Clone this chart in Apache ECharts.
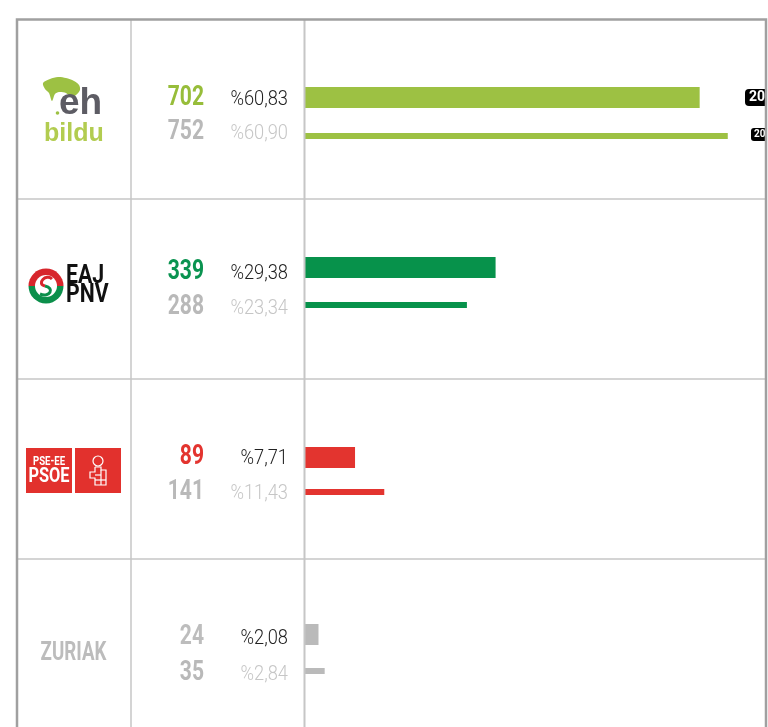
<!DOCTYPE html>
<html>
<head>
<meta charset="utf-8">
<script src="https://cdn.jsdelivr.net/npm/echarts@6/dist/echarts.min.js"></script>
<style>
  html, body { margin: 0; padding: 0; background: #fff; }
  #chart { width: 768px; height: 727px; }
</style>
</head>
<body>
<div id="chart"></div>
<script>
// datos
const parties = ['EH Bildu', 'EAJ-PNV', 'PSE-EE', 'Zuriak']
const years = ['2023', '2019']
const votesNow = [702, 339, 89, 24]
const votesPrev = [752, 288, 141, 35]
const pctNow = [60.83, 29.38, 7.71, 2.08]
const pctPrev = [60.90, 23.34, 11.43, 2.84]

const partyColors = ['#9dc143', '#07924b', '#e3342f', '#bababa']
const numColors = ['#97bd3a', '#0a9350', '#e3342f', '#bdbdbd']

// maquetacion de la tabla
const rowTops = [19, 199, 379, 559]
const barTopNow = [87, 257, 447, 624]
const barTopPrev = [133, 302, 489, 668]
const textYNow = [98, 272.5, 457, 637]
const textYPrev = [132, 307, 492, 673]
const thickNow = 21
const thickPrev = 6

const numFont = "bold 27px Roboto, 'Liberation Sans', sans-serif"
const pctFont = "300 21px Roboto, 'Liberation Sans', sans-serif"
const fmtPct = v => '%' + v.toFixed(2).replace('.', ',')

const chart = echarts.init(document.getElementById('chart'))

const grids = [], xAxes = [], yAxes = [], series = []
parties.forEach((p, i) => {
  [[votesNow[i], barTopNow[i], thickNow], [votesPrev[i], barTopPrev[i], thickPrev]].forEach(([v, top, th]) => {
    const idx = grids.length
    grids.push({ left: 305, right: 2, top: top - 5, height: th + 10 })
    xAxes.push({ gridIndex: idx, type: 'value', min: 0, max: 820, show: false })
    yAxes.push({ gridIndex: idx, type: 'category', data: [p], show: false })
    series.push({
      type: 'bar', xAxisIndex: idx, yAxisIndex: idx,
      barWidth: th, data: [v],
      itemStyle: { color: partyColors[i] },
      silent: true
    })
  })
})

// texto (scaleX para imitar la letra estrecha)
const txt = (x, y, text, font, fill, align, sx, extra) => Object.assign({
  type: 'text', x: x, y: y, z: 50, scaleX: sx || 1,
  style: { text: text, font: font, fill: fill, align: align, textAlign: align, verticalAlign: 'middle', textVerticalAlign: 'middle' }
}, extra || {})

const graphics = []

// numeros y porcentajes
parties.forEach((p, i) => {
  graphics.push(txt(204, textYNow[i], String(votesNow[i]), numFont, numColors[i], 'right', 0.78))
  graphics.push(txt(204, textYPrev[i], String(votesPrev[i]), numFont, '#b9b9b9', 'right', 0.78))
  graphics.push(txt(288, textYNow[i] + 1.5, fmtPct(pctNow[i]), pctFont, '#222', 'right', 0.87))
  graphics.push(txt(288, textYPrev[i] + 1.5, fmtPct(pctPrev[i]), pctFont, '#c6c6c6', 'right', 0.87))
})

// logos
// EH Bildu
graphics.push({ type: 'polygon', z: 40, shape: { points: [[43, 83], [50, 79], [58, 77], [66, 78], [74, 81], [79, 85], [80, 90], [76, 95], [71, 97], [66, 93], [59, 92], [55, 94], [52, 101], [49, 93], [45, 89]], smooth: 0.3 }, style: { fill: '#9dc143' } })
graphics.push({ type: 'circle', z: 40, shape: { cx: 57.5, cy: 113, r: 1.8 }, style: { fill: '#9dc143' } })
graphics.push(txt(59, 104, 'eh', "bold 37px 'Liberation Sans', Arial, sans-serif", '#5d5c64', 'left', 1))
graphics.push(txt(44, 134.5, 'bildu', "bold 25px 'Liberation Sans', Arial, sans-serif", '#b2cc50', 'left', 1))
// EAJ-PNV
graphics.push({ type: 'sector', z: 40, shape: { cx: 46, cy: 286, r: 17.5, startAngle: Math.PI, endAngle: 2 * Math.PI }, style: { fill: '#d7262c' } })
graphics.push({ type: 'sector', z: 40, shape: { cx: 46, cy: 286, r: 17.5, startAngle: 0, endAngle: Math.PI }, style: { fill: '#0b8f4b' } })
graphics.push({ type: 'circle', z: 41, shape: { cx: 46, cy: 286, r: 11 }, style: { fill: '#fff' } })
graphics.push({ type: 'bezierCurve', z: 42, shape: { x1: 52, y1: 279, cpx1: 46, cpy1: 273, cpx2: 36, cpy2: 284, x2: 45, y2: 286 }, style: { fill: 'none', stroke: '#d7262c', lineWidth: 3 } })
graphics.push({ type: 'bezierCurve', z: 42, shape: { x1: 45, y1: 286, cpx1: 55, cpy1: 288, cpx2: 50, cpy2: 298, x2: 40, y2: 294 }, style: { fill: 'none', stroke: '#0b8f4b', lineWidth: 3 } })
graphics.push(txt(66, 277, 'EAJ', "bold 25px Roboto, 'Liberation Sans', sans-serif", '#111', 'left', 0.85))
graphics.push(txt(66, 296, 'PNV', "bold 25px Roboto, 'Liberation Sans', sans-serif", '#111', 'left', 0.85))
// PSE-EE
graphics.push({ type: 'rect', z: 40, shape: { x: 26, y: 448, width: 46, height: 45 }, style: { fill: '#e2312d' } })
graphics.push({ type: 'rect', z: 40, shape: { x: 75, y: 448, width: 46, height: 45 }, style: { fill: '#e2312d' } })
graphics.push(txt(49, 462, 'PSE-EE', "bold 12px Roboto, 'Liberation Sans', sans-serif", '#fff', 'center', 0.8))
graphics.push(txt(49, 477, 'PSOE', "bold 21px Roboto, 'Liberation Sans', sans-serif", '#fff', 'center', 0.78))
graphics.push({ type: 'circle', z: 41, shape: { cx: 98, cy: 461, r: 5 }, style: { fill: 'none', stroke: '#fff', lineWidth: 1.2 } })
graphics.push({ type: 'polyline', z: 41, shape: { points: [[95, 467], [101, 467], [101, 470], [106, 470], [106, 485], [95, 485], [95, 478], [90, 478], [90, 472], [95, 472], [95, 467]] }, style: { fill: 'none', stroke: '#fff', lineWidth: 1.2 } })
graphics.push({ type: 'line', z: 41, shape: { x1: 95, y1: 475, x2: 101, y2: 475 }, style: { stroke: '#fff', lineWidth: 1.2 } })
graphics.push({ type: 'line', z: 41, shape: { x1: 95, y1: 480, x2: 106, y2: 480 }, style: { stroke: '#fff', lineWidth: 1.2 } })
graphics.push({ type: 'line', z: 41, shape: { x1: 101, y1: 470, x2: 101, y2: 485 }, style: { stroke: '#fff', lineWidth: 1.2 } })
// Zuriak
graphics.push(txt(73.5, 653, 'ZURIAK', "bold 26px Roboto, 'Liberation Sans', sans-serif", '#bcbcbc', 'center', 0.72))

// etiquetas de año (recortadas por el borde)
graphics.push({ type: 'rect', z: 45, shape: { x: 745, y: 89, width: 40, height: 17, r: 4 }, style: { fill: '#000' } })
graphics.push(txt(749, 97.5, years[0], "bold 14px Roboto, 'Liberation Sans', sans-serif", '#fff', 'left', 1, { z: 46 }))
graphics.push({ type: 'rect', z: 45, shape: { x: 751, y: 128, width: 40, height: 13, r: 3 }, style: { fill: '#000' } })
graphics.push(txt(754, 134.5, years[1], "bold 10px Roboto, 'Liberation Sans', sans-serif", '#fff', 'left', 1, { z: 46 }))

// lineas de la tabla
const lineStyle = { stroke: '#c6c6c6', lineWidth: 1.5 }
rowTops.slice(1).forEach(y => {
  graphics.push({ type: 'line', z: 30, shape: { x1: 17, y1: y, x2: 766, y2: y }, style: lineStyle })
})
graphics.push({ type: 'line', z: 30, shape: { x1: 131, y1: 19, x2: 131, y2: 740 }, style: lineStyle })
graphics.push({ type: 'line', z: 30, shape: { x1: 304.5, y1: 19, x2: 304.5, y2: 740 }, style: { stroke: '#c6c6c6', lineWidth: 2 } })
graphics.push({ type: 'rect', z: 90, shape: { x: 767, y: 0, width: 20, height: 727 }, style: { fill: '#fff' } })
graphics.push({ type: 'rect', z: 95, shape: { x: 17, y: 19.5, width: 749, height: 800 }, style: { fill: 'none', stroke: '#a0a0a0', lineWidth: 2.5 } })

chart.setOption({
  animation: false,
  grid: grids,
  xAxis: xAxes,
  yAxis: yAxes,
  series: series,
  graphic: graphics
})
</script>
</body>
</html>
